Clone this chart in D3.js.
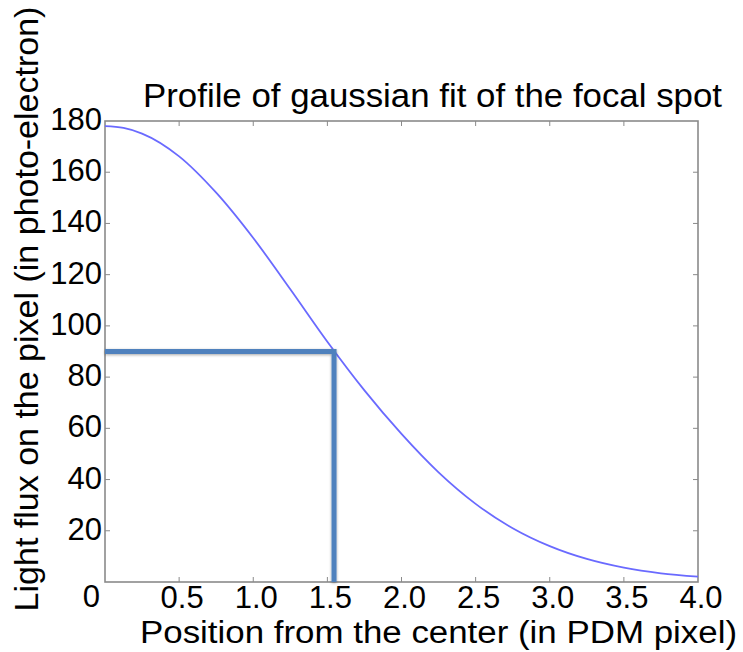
<!DOCTYPE html>
<html><head><meta charset="utf-8">
<script src="https://cdn.jsdelivr.net/npm/d3@7"></script>
<style>
html,body{margin:0;padding:0;background:#fff;}
text{font-family:"Liberation Sans",Arial,sans-serif;fill:#000;}
</style></head>
<body>
<svg id="chart" width="743" height="652"></svg>
<script>
// Data
const positions = [0, 0.125, 0.25, 0.5, 0.75, 1.0, 1.25, 1.5, 1.75, 2.0, 2.25, 2.5, 2.75, 3.0, 3.25, 3.5, 3.75, 4.0];
const flux      = [178, 177.3, 175.1, 166.2, 152, 134.3, 114.3, 93.8, 74.8, 57.8, 42.8, 30.5, 21, 14, 9, 5.6, 3.4, 2.1];
const xTicks = [0.5, 1.0, 1.5, 2.0, 2.5, 3.0, 3.5, 4.0];
const yTicks = [20, 40, 60, 80, 100, 120, 140, 160, 180];
const markerX = 1.545;   // position of the half-maximum marker
const markerY = 90;      // flux at the marker
const title = "Profile of gaussian fit of the focal spot";
const xTitle = "Position from the center (in PDM pixel)";
const yTitle = "Light flux on the pixel (in photo-electron)";

const svg = d3.select("#chart");
const L = 105, R = 698, T = 121, B = 582;
const x = d3.scaleLinear().domain([0, 4]).range([L, R]);
const y = d3.scaleLinear().domain([0, 180]).range([B, T]);

const defs = svg.append("defs");
const f = defs.append("filter").attr("id","glow").attr("x","-20%").attr("y","-20%").attr("width","140%").attr("height","140%");
f.append("feGaussianBlur").attr("in","SourceAlpha").attr("stdDeviation",1.5).attr("result","b");
f.append("feOffset").attr("in","b").attr("dx",0).attr("dy",1).attr("result","o");
f.append("feComponentTransfer").attr("in","o").attr("result","s")
  .append("feFuncA").attr("type","linear").attr("slope",0.35);
const m = f.append("feMerge");
m.append("feMergeNode").attr("in","s");
m.append("feMergeNode").attr("in","SourceGraphic");

// frame
svg.append("rect").attr("x",L).attr("y",T).attr("width",R-L).attr("height",B-T)
  .attr("fill","none").attr("stroke","#8a8a8a").attr("stroke-width",1.6);

const tk = 5;
const axisColor = "#8a8a8a";
// ticks, inward on all sides
const g = svg.append("g").attr("stroke",axisColor).attr("stroke-width",1);
xTicks.filter(d=>d<4).forEach(d=>{
  g.append("line").attr("x1",x(d)).attr("x2",x(d)).attr("y1",B).attr("y2",B-tk);
  g.append("line").attr("x1",x(d)).attr("x2",x(d)).attr("y1",T).attr("y2",T+tk);
});
yTicks.filter(d=>d<180).forEach(d=>{
  g.append("line").attr("y1",y(d)).attr("y2",y(d)).attr("x1",L).attr("x2",L+tk);
  g.append("line").attr("y1",y(d)).attr("y2",y(d)).attr("x1",R).attr("x2",R-tk);
});

// tick labels
svg.append("g").selectAll("text").data(xTicks).join("text")
  .attr("x", d=>x(d)+3).attr("y", B+26)
  .attr("text-anchor","middle").attr("font-size",31).text(d=>d.toFixed(1));
svg.append("g").selectAll("text").data(yTicks).join("text")
  .attr("x", L-3).attr("y", d=>y(d)+9)
  .attr("text-anchor","end").attr("font-size",31).text(d=>d);
svg.append("text").attr("x", L-5).attr("y", B+25).attr("text-anchor","end").attr("font-size",31).text("0");

// gaussian profile
const line = d3.line().x((d,i)=>x(positions[i])).y(d=>y(d)).curve(d3.curveMonotoneX);
svg.append("path").datum(flux).attr("d", line)
  .attr("fill","none").attr("stroke","#6a6aff").attr("stroke-width",1.8);

// marker lines
const mk = svg.append("g").attr("filter","url(#glow)").attr("stroke","#4f81bd").attr("stroke-width",5).attr("fill","none");
mk.append("path").attr("d", `M${x(0)},${y(markerY)}H${x(markerX)}V${y(0)}`).attr("stroke-linejoin","miter");

// titles
svg.append("text").attr("x",143).attr("y",107).attr("font-size",33)
  .attr("textLength",579).attr("lengthAdjust","spacingAndGlyphs").text(title);
svg.append("text").attr("x",140).attr("y",643).attr("font-size",31)
  .attr("textLength",597).attr("lengthAdjust","spacingAndGlyphs").text(xTitle);
svg.append("text").attr("transform","translate(38,309) rotate(-90)")
  .attr("text-anchor","middle").attr("font-size",34).text(yTitle);
</script>
</body></html>
